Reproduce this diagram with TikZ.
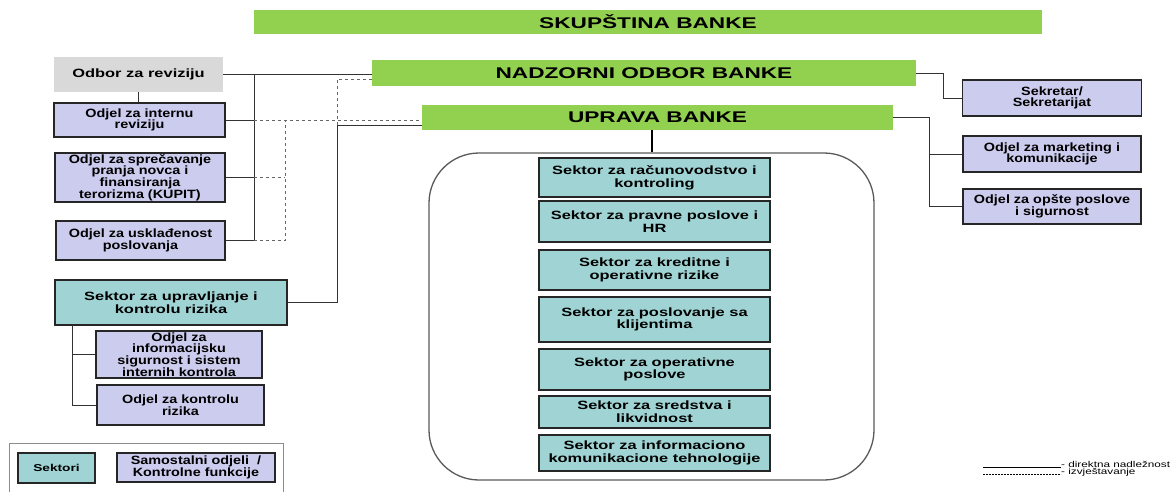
\documentclass[tikz,border=0pt]{standalone}
\usepackage{fontspec}
\setmainfont{Liberation Sans}
\newfontfamily\titlefont[FakeStretch=1.46]{Liberation Sans}
\newfontfamily\odjelfont[FakeStretch=1.2]{Liberation Sans}
\newfontfamily\sektorfont[FakeStretch=1.37]{Liberation Sans}
\newfontfamily\legendfont[FakeStretch=1.38]{Liberation Sans}
\usetikzlibrary{positioning}
\definecolor{nadzor}{RGB}{146,208,80}
\definecolor{odjel}{RGB}{204,204,238}
\definecolor{sektor}{RGB}{160,212,212}
\definecolor{odbor}{RGB}{217,217,217}

\tikzset{
    titlebox/.style={fill=nadzor, inner sep=0pt, font=\titlefont\bfseries\fontsize{15.5}{17}\selectfont},
    odjelbox/.style={draw=black!85, line width=1.6pt, fill=odjel, align=center, inner sep=0pt, font=\odjelfont\bfseries\fontsize{12}{11.7}\selectfont},
    sektorbox/.style={odjelbox, fill=sektor, font=\sektorfont\bfseries\fontsize{12}{12.7}\selectfont},
    odborbox/.style={fill=odbor, inner sep=0pt, font=\sektorfont\bfseries\fontsize{12}{13}\selectfont},
    framebox/.style={draw=black!65, line width=1.3pt, rounded corners=50pt},
    link/.style={draw=black!80, line width=1pt},
    report/.style={draw=black!60, line width=1pt, dashed},
    legtext/.style={inner sep=0pt, font=\legendfont\fontsize{8.5}{9}\selectfont}
}

\begin{document}
\begin{tikzpicture}[x=1pt, y=-1pt]
    \useasboundingbox (0,0) rectangle (1171,491);

    % upravljacka tijela
    \node[titlebox, minimum width=788pt, minimum height=24pt] (skupstina) at (648,22) {SKUPŠTINA BANKE};
    \node[titlebox, minimum width=544pt, minimum height=26pt] (nadzorni) at (644,73) {NADZORNI ODBOR BANKE};
    \node[titlebox, minimum width=471pt, minimum height=25pt] (uprava) at (657.5,117.5) {UPRAVA BANKE};

    % lijeva strana
    \node[odborbox, minimum width=169pt, minimum height=35pt] (odbor) at (138.5,74.5) {Odbor za reviziju};
    \node[odjelbox, minimum width=171pt, minimum height=34pt] (interna) at (139.5,120) {Odjel za internu\\reviziju};
    \node[odjelbox, minimum width=170pt, minimum height=49pt] (kupit) at (140,177.5) {Odjel za sprečavanje\\pranja novca i\\finansiranja\\terorizma (KUPIT)};
    \node[odjelbox, minimum width=169pt, minimum height=39pt] (uskladjenost) at (140.5,240.5) {Odjel za usklađenost\\poslovanja};
    \node[sektorbox, minimum width=232pt, minimum height=45pt] (rizik) at (171,302.5) {Sektor za upravljanje i\\kontrolu rizika};
    \node[odjelbox, minimum width=166pt, minimum height=47pt] (infosig) at (179,354.5) {Odjel za\\informacijsku\\sigurnost i sistem\\internih kontrola};
    \node[odjelbox, minimum width=167pt, minimum height=40pt] (kontrola) at (180.5,405) {Odjel za kontrolu\\rizika};

    % desna strana
    \node[odjelbox, minimum width=179pt, minimum height=36pt] (sekretar) at (1052,98) {Sekretar/\\Sekretarijat};
    \node[odjelbox, minimum width=178pt, minimum height=36pt] (marketing) at (1052,154) {Odjel za marketing i\\komunikacije};
    \node[odjelbox, minimum width=178pt, minimum height=35pt] (opste) at (1052,206.5) {Odjel za opšte poslove\\i sigurnost};

    % sektori pod upravom
    \node[framebox, minimum width=445pt, minimum height=327pt] (sektori) at (651.5,316.5) {};
    \node[sektorbox, minimum width=231pt, minimum height=39pt] (racunovodstvo) at (654.5,177.5) {Sektor za računovodstvo i\\kontroling};
    \node[sektorbox, minimum width=231pt, minimum height=41pt] (pravni) at (654.5,221.5) {Sektor za pravne poslove i\\HR};
    \node[sektorbox, minimum width=231pt, minimum height=40pt] (krediti) at (654.5,270) {Sektor za kreditne i\\operativne rizike};
    \node[sektorbox, minimum width=231pt, minimum height=45pt] (klijenti) at (654.5,319.5) {Sektor za poslovanje sa\\klijentima};
    \node[sektorbox, minimum width=231pt, minimum height=41pt] (operativa) at (654.5,369.5) {Sektor za operativne\\poslove};
    \node[sektorbox, minimum width=231pt, minimum height=32pt] (sredstva) at (654.5,412) {Sektor za sredstva i\\likvidnost};
    \node[sektorbox, minimum width=231pt, minimum height=36pt] (it) at (654.5,453) {Sektor za informaciono\\komunikacione tehnologije};

    % legenda
    \node[draw=black!45, line width=0.8pt, minimum width=274pt, minimum height=60pt] (legenda) at (146,473) {};
    \node[sektorbox, font=\sektorfont\bfseries\fontsize{10}{11}\selectfont, minimum width=77pt, minimum height=30pt] (legsektor) at (56.5,468) {Sektori};
    \node[odjelbox, minimum width=158pt, minimum height=29pt] (legodjel) at (196,467.5) {Samostalni odjeli~~/\\Kontrolne funkcije};
    \node[legtext, anchor=base west] (legsolid) at (1061,467.5) {- direktna nadležnost};
    \node[legtext, anchor=base west] (legdash) at (1061,474) {- izvještavanje};
    \coordinate (solidstart) at (983,467.5);
    \coordinate (dashstart) at (983,474);

    % veze lijevo
    \coordinate (revspine) at (254,74);
    \coordinate (repspine) at (285,120);
    \coordinate (riskspine) at (337,125);
    \coordinate (risktop) at (337,79);
    \coordinate (riskbus) at (72,325);
    \draw[link] (odbor.east) -- (odbor.east -| nadzorni.west);
    \draw[link] (odbor.south) -- (odbor.south |- interna.north);
    \draw[link] (revspine) |- (uskladjenost.east);
    \draw[link] (interna.east) -- (interna.east -| revspine);
    \draw[link] (kupit.east) -- (kupit.east -| revspine);
    \draw[report] (interna.east -| revspine) -- (interna.east -| uprava.west);
    \draw[report] (kupit.east -| revspine) -- (kupit.east -| repspine);
    \draw[report] (uskladjenost.east -| revspine) -| (repspine);
    \draw[link] (riskspine -| uprava.west) -- (riskspine) |- (rizik.east);
    \draw[report] (riskspine) -- (risktop) -- (risktop -| nadzorni.west);
    \draw[link] (riskbus) |- (infosig.west);
    \draw[link] (riskbus) |- (kontrola.west);

    % veze desno
    \coordinate (nobus) at (943,73);
    \coordinate (upbus) at (929,117.5);
    \draw[link] (nadzorni.east) -- (nobus) |- (sekretar.west);
    \draw[link] (uprava.east) -- (upbus) |- (opste.west);
    \draw[link] (upbus |- marketing.west) -- (marketing.west);
    \draw[line width=2pt] (uprava.south -| sektori.north) -- (sektori.north);

    % linije legende
    \draw[line width=0.8pt] (solidstart) -- (solidstart -| legsolid.base west);
    \draw[line width=0.8pt, dash pattern=on 2pt off 1pt] (dashstart) -- (dashstart -| legdash.base west);
\end{tikzpicture}
\end{document}
